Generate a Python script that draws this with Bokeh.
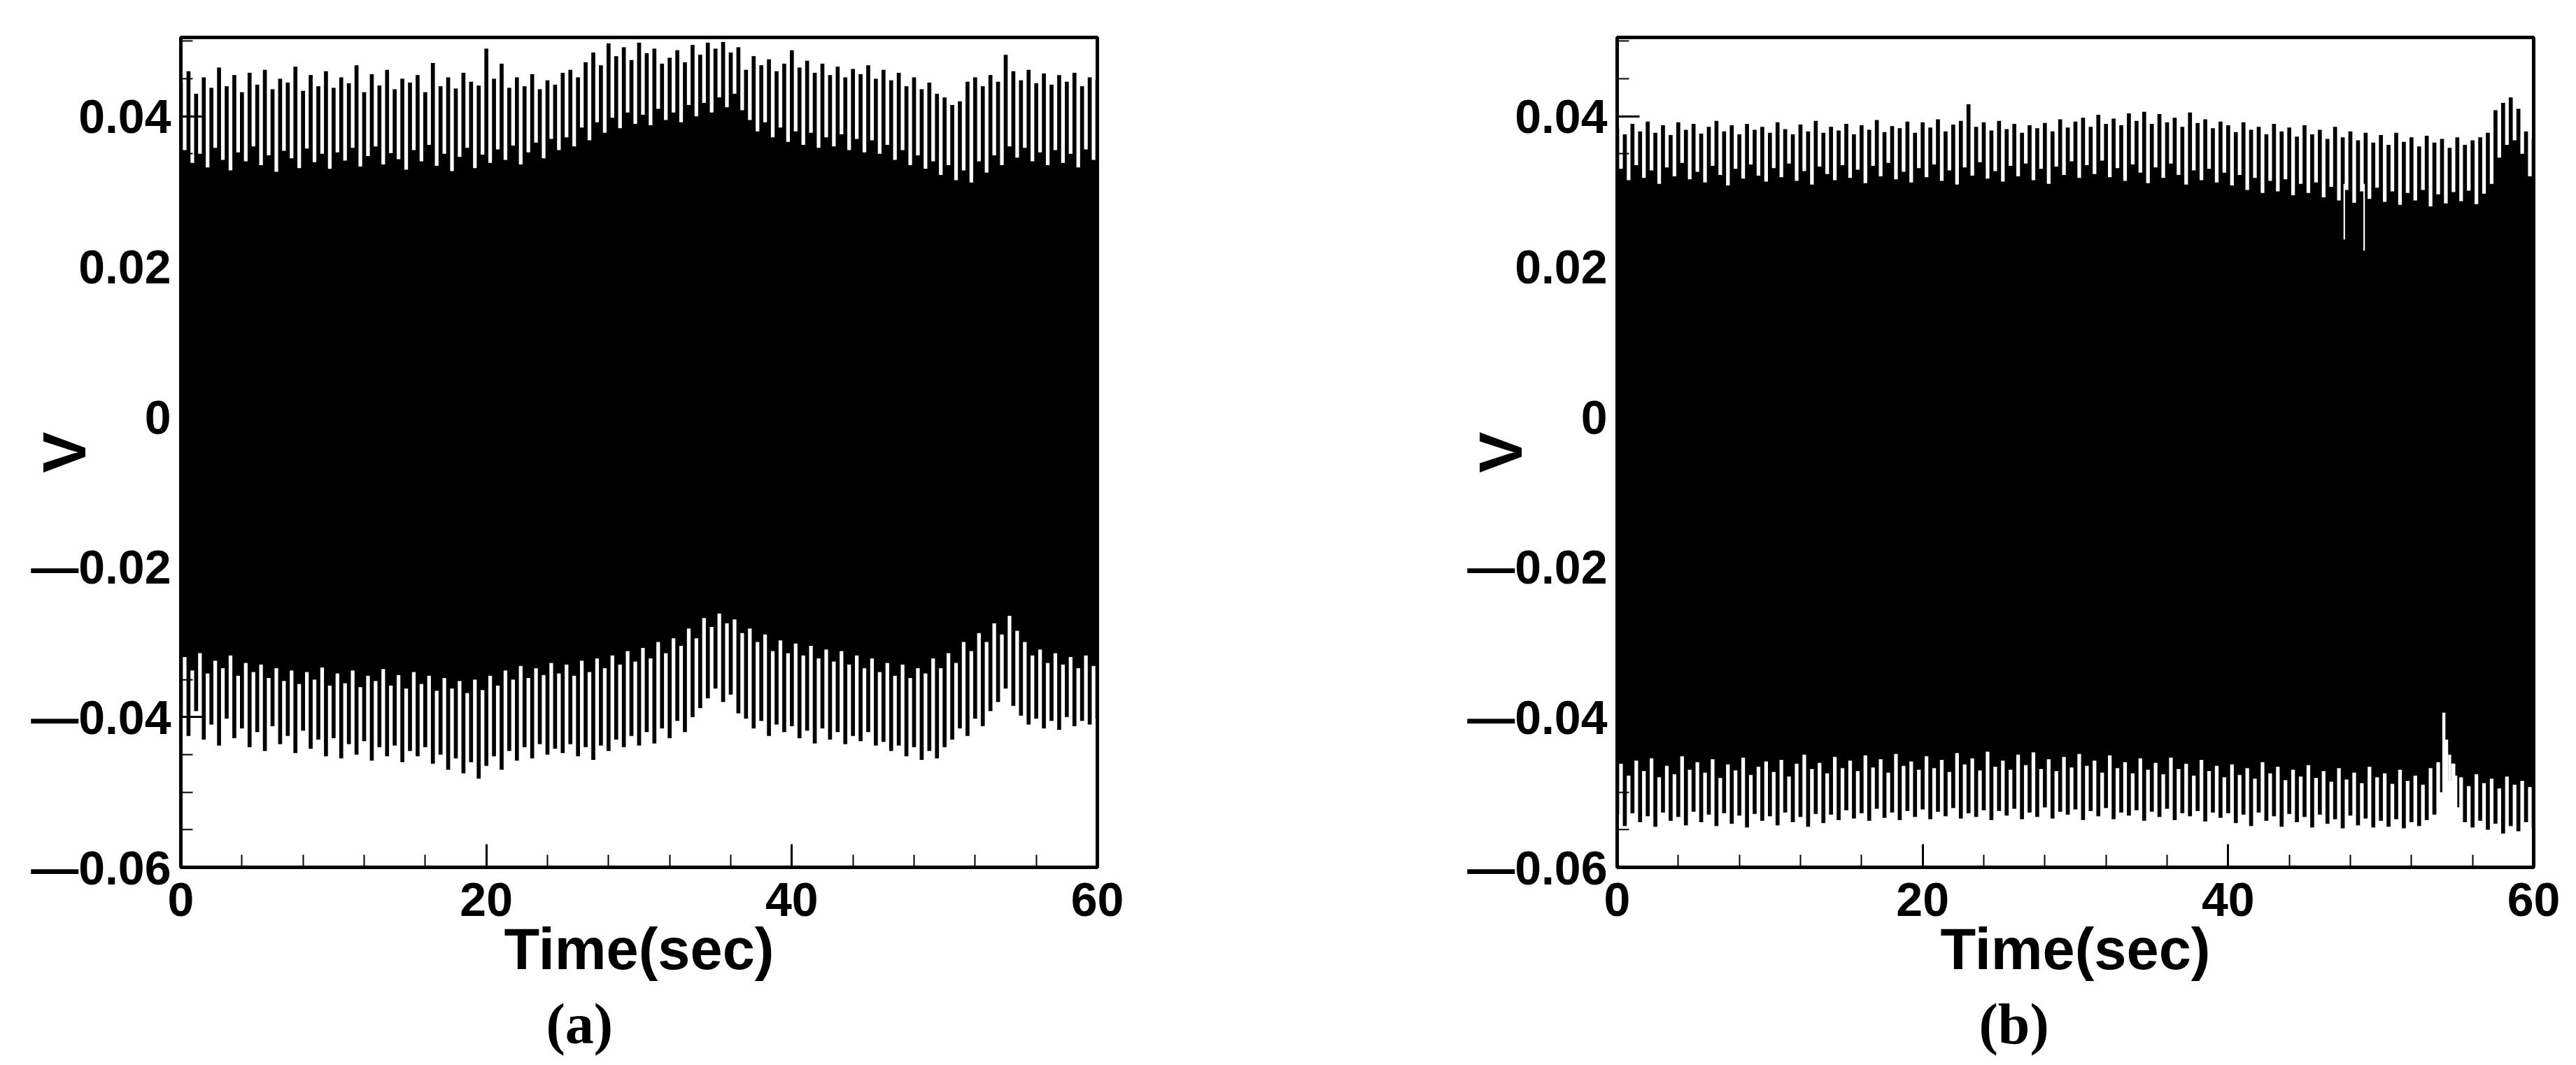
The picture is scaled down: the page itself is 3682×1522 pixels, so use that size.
import math
from bokeh.plotting import figure
from bokeh.layouts import row
from bokeh.models import Range1d, FixedTicker, CustomJSTickFormatter, Title
from bokeh.embed import file_html
from bokeh.resources import INLINE

# ---------------- data ----------------
T_SPIKE = [round(0.5 * i, 1) for i in range(121)]   # 0 .. 60 s, every 0.5 s

X_TICKS = [0, 20, 40, 60]
X_MINOR = [0, 4, 8, 12, 16, 20, 24, 28, 32, 36, 40, 44, 48, 52, 56, 60]
Y_TICKS = [-0.06, -0.04, -0.02, 0.0, 0.02, 0.04]
Y_MINOR = [-0.06, -0.055, -0.05, -0.045, -0.04, -0.035, -0.03, -0.025, -0.02, -0.015,
           -0.01, -0.005, 0.0, 0.005, 0.01, 0.015, 0.02, 0.025, 0.03, 0.035, 0.04, 0.045, 0.05]

# panel (a): positive spike tips
A_UPPER_PEAK = [
    0.0445, 0.0460, 0.0430, 0.0452, 0.0438, 0.0465, 0.0440, 0.0455, 0.0432, 0.0458,
    0.0442, 0.0462, 0.0436, 0.0450, 0.0445, 0.0466, 0.0434, 0.0455, 0.0440, 0.0460,
    0.0438, 0.0452, 0.0444, 0.0468, 0.0432, 0.0456, 0.0441, 0.0462, 0.0436, 0.0450,
    0.0445, 0.0455, 0.0432, 0.0471, 0.0440, 0.0452, 0.0437, 0.0458, 0.0446, 0.0441,
    0.0490, 0.0450, 0.0470, 0.0438, 0.0452, 0.0440, 0.0456, 0.0436, 0.0448, 0.0442,
    0.0458, 0.0462, 0.0452, 0.0472, 0.0485, 0.0468, 0.0497, 0.0480, 0.0492, 0.0475,
    0.0498, 0.0484, 0.0490, 0.0470, 0.0478, 0.0488, 0.0472, 0.0495, 0.0482, 0.0498,
    0.0490, 0.0499, 0.0485, 0.0492, 0.0462, 0.0480, 0.0468, 0.0476, 0.0460, 0.0470,
    0.0488, 0.0465, 0.0474, 0.0458, 0.0470, 0.0455, 0.0466, 0.0452, 0.0463, 0.0456,
    0.0468, 0.0450, 0.0462, 0.0448, 0.0458, 0.0440, 0.0452, 0.0436, 0.0445, 0.0430,
    0.0425, 0.0415, 0.0420, 0.0446, 0.0452, 0.0440, 0.0455, 0.0446, 0.0482, 0.0460,
    0.0448, 0.0462, 0.0444, 0.0457, 0.0442, 0.0455, 0.0446, 0.0458, 0.0440, 0.0452,
    0.0448]
# panel (a): negative spike tips
A_LOWER_PEAK = [
    -0.0400, -0.0425, -0.0392, -0.0430, -0.0410, -0.0438, -0.0402, -0.0428, -0.0415, -0.0440,
    -0.0420, -0.0445, -0.0412, -0.0436, -0.0425, -0.0448, -0.0418, -0.0442, -0.0430, -0.0452,
    -0.0428, -0.0455, -0.0436, -0.0450, -0.0432, -0.0458, -0.0440, -0.0452, -0.0438, -0.0460,
    -0.0445, -0.0452, -0.0440, -0.0462, -0.0450, -0.0470, -0.0455, -0.0475, -0.0460, -0.0482,
    -0.0465, -0.0452, -0.0470, -0.0445, -0.0458, -0.0440, -0.0455, -0.0436, -0.0450, -0.0442,
    -0.0448, -0.0436, -0.0452, -0.0440, -0.0457, -0.0438, -0.0445, -0.0430, -0.0440, -0.0425,
    -0.0438, -0.0420, -0.0435, -0.0415, -0.0428, -0.0405, -0.0420, -0.0400, -0.0388, -0.0375,
    -0.0362, -0.0380, -0.0370, -0.0395, -0.0402, -0.0415, -0.0405, -0.0425, -0.0410, -0.0420,
    -0.0412, -0.0428, -0.0418, -0.0435, -0.0415, -0.0430, -0.0420, -0.0436, -0.0425, -0.0432,
    -0.0420, -0.0438, -0.0433, -0.0445, -0.0438, -0.0452, -0.0440, -0.0457, -0.0445, -0.0455,
    -0.0440, -0.0430, -0.0415, -0.0425, -0.0402, -0.0412, -0.0392, -0.0380, -0.0362, -0.0385,
    -0.0398, -0.0410, -0.0402, -0.0415, -0.0405, -0.0417, -0.0400, -0.0412, -0.0405, -0.0410,
    -0.0402]
# panel (a): depth of the white gaps = limits of the solid black band
A_UPPER_BASE = [
    0.0355, 0.0338, 0.0350, 0.0332, 0.0358, 0.0342, 0.0328, 0.0352, 0.0340, 0.0360,
    0.0335, 0.0348, 0.0326, 0.0354, 0.0344, 0.0331, 0.0357, 0.0339, 0.0350, 0.0330,
    0.0352, 0.0341, 0.0358, 0.0333, 0.0347, 0.0360, 0.0336, 0.0351, 0.0343, 0.0329,
    0.0355, 0.0340, 0.0362, 0.0334, 0.0350, 0.0327, 0.0346, 0.0358, 0.0331, 0.0349,
    0.0338, 0.0356, 0.0342, 0.0361, 0.0336, 0.0352, 0.0365, 0.0344, 0.0370, 0.0355,
    0.0372, 0.0360, 0.0385, 0.0368, 0.0392, 0.0378, 0.0398, 0.0384, 0.0405, 0.0390,
    0.0402, 0.0388, 0.0410, 0.0395, 0.0405, 0.0392, 0.0415, 0.0400, 0.0418, 0.0405,
    0.0425, 0.0412, 0.0430, 0.0408, 0.0395, 0.0380, 0.0392, 0.0372, 0.0385, 0.0366,
    0.0380, 0.0362, 0.0378, 0.0358, 0.0372, 0.0360, 0.0376, 0.0355, 0.0370, 0.0352,
    0.0368, 0.0350, 0.0362, 0.0342, 0.0355, 0.0335, 0.0348, 0.0330, 0.0340, 0.0322,
    0.0335, 0.0315, 0.0328, 0.0312, 0.0340, 0.0325, 0.0348, 0.0335, 0.0360, 0.0345,
    0.0358, 0.0340, 0.0352, 0.0335, 0.0355, 0.0338, 0.0350, 0.0332, 0.0356, 0.0342,
    0.0350]
A_LOWER_BASE = [
    -0.0320, -0.0338, -0.0315, -0.0342, -0.0325, -0.0335, -0.0318, -0.0345, -0.0328, -0.0340,
    -0.0330, -0.0348, -0.0335, -0.0352, -0.0338, -0.0356, -0.0340, -0.0350, -0.0334, -0.0358,
    -0.0342, -0.0355, -0.0338, -0.0360, -0.0345, -0.0352, -0.0336, -0.0358, -0.0344, -0.0362,
    -0.0340, -0.0356, -0.0345, -0.0365, -0.0348, -0.0362, -0.0352, -0.0368, -0.0350, -0.0364,
    -0.0345, -0.0358, -0.0338, -0.0350, -0.0332, -0.0348, -0.0335, -0.0344, -0.0328, -0.0342,
    -0.0330, -0.0345, -0.0325, -0.0340, -0.0322, -0.0335, -0.0318, -0.0330, -0.0312, -0.0326,
    -0.0308, -0.0322, -0.0300, -0.0315, -0.0295, -0.0305, -0.0282, -0.0295, -0.0268, -0.0280,
    -0.0262, -0.0275, -0.0270, -0.0288, -0.0282, -0.0300, -0.0290, -0.0312, -0.0298, -0.0315,
    -0.0302, -0.0318, -0.0305, -0.0322, -0.0310, -0.0326, -0.0312, -0.0330, -0.0318, -0.0335,
    -0.0322, -0.0340, -0.0328, -0.0345, -0.0330, -0.0348, -0.0335, -0.0342, -0.0322, -0.0335,
    -0.0315, -0.0328, -0.0300, -0.0312, -0.0288, -0.0300, -0.0275, -0.0290, -0.0265, -0.0285,
    -0.0300, -0.0318, -0.0310, -0.0328, -0.0315, -0.0330, -0.0320, -0.0335, -0.0318, -0.0332,
    -0.0325]

# panel (b): positive spike tips
B_UPPER_PEAK = [
    0.0385, 0.0376, 0.0390, 0.0380, 0.0393, 0.0378, 0.0388, 0.0375, 0.0392, 0.0382,
    0.0390, 0.0377, 0.0386, 0.0394, 0.0380, 0.0388, 0.0376, 0.0390, 0.0382, 0.0386,
    0.0378, 0.0392, 0.0383, 0.0376, 0.0389, 0.0380, 0.0394, 0.0378, 0.0386, 0.0381,
    0.0390, 0.0376, 0.0388, 0.0382, 0.0395, 0.0379, 0.0387, 0.0384, 0.0393, 0.0378,
    0.0392, 0.0385, 0.0396, 0.0380, 0.0389, 0.0394, 0.0416, 0.0386, 0.0392, 0.0381,
    0.0394, 0.0383, 0.0390, 0.0378, 0.0388, 0.0384, 0.0391, 0.0380, 0.0396, 0.0385,
    0.0393, 0.0398, 0.0386, 0.0402, 0.0390, 0.0397, 0.0388, 0.0404, 0.0394, 0.0406,
    0.0390, 0.0403, 0.0392, 0.0398, 0.0386, 0.0405, 0.0391, 0.0396, 0.0384, 0.0393,
    0.0388, 0.0379, 0.0392, 0.0382, 0.0386, 0.0376, 0.0390, 0.0380, 0.0385, 0.0373,
    0.0388, 0.0376, 0.0382, 0.0370, 0.0386, 0.0372, 0.0380, 0.0368, 0.0378, 0.0365,
    0.0375, 0.0362, 0.0378, 0.0366, 0.0372, 0.0360, 0.0374, 0.0365, 0.0370, 0.0358,
    0.0372, 0.0362, 0.0368, 0.0372, 0.0378, 0.0408, 0.0418, 0.0425, 0.0410, 0.0380,
    0.0370]
# panel (b): negative spike tips
B_LOWER_PEAK = [
    -0.0530, -0.0545, -0.0528, -0.0540, -0.0532, -0.0546, -0.0527, -0.0538, -0.0533, -0.0544,
    -0.0526, -0.0540, -0.0530, -0.0545, -0.0528, -0.0542, -0.0531, -0.0547, -0.0529, -0.0538,
    -0.0532, -0.0544, -0.0527, -0.0540, -0.0533, -0.0546, -0.0529, -0.0541, -0.0530, -0.0537,
    -0.0524, -0.0535, -0.0528, -0.0538, -0.0522, -0.0534, -0.0527, -0.0537, -0.0525, -0.0533,
    -0.0523, -0.0536, -0.0526, -0.0532, -0.0521, -0.0535, -0.0528, -0.0533, -0.0524, -0.0537,
    -0.0525, -0.0531, -0.0522, -0.0536, -0.0527, -0.0533, -0.0520, -0.0535, -0.0526, -0.0530,
    -0.0523, -0.0537, -0.0525, -0.0532, -0.0521, -0.0536, -0.0527, -0.0531, -0.0524, -0.0538,
    -0.0526, -0.0533, -0.0522, -0.0537, -0.0528, -0.0532, -0.0525, -0.0539, -0.0527, -0.0534,
    -0.0528, -0.0541, -0.0530, -0.0545, -0.0527, -0.0538, -0.0532, -0.0546, -0.0529, -0.0540,
    -0.0533, -0.0547, -0.0530, -0.0542, -0.0536, -0.0548, -0.0531, -0.0544, -0.0535, -0.0547,
    -0.0538, -0.0546, -0.0536, -0.0548, -0.0540, -0.0545, -0.0537, -0.0530, -0.0500, -0.0485,
    -0.0520, -0.0540, -0.0547, -0.0538, -0.0550, -0.0542, -0.0555, -0.0545, -0.0552, -0.0540,
    -0.0548]
B_UPPER_BASE = [
    0.0330, 0.0315, 0.0335, 0.0318, 0.0328, 0.0310, 0.0332, 0.0320, 0.0338, 0.0316,
    0.0326, 0.0312, 0.0334, 0.0322, 0.0308, 0.0330, 0.0317, 0.0336, 0.0321, 0.0313,
    0.0331, 0.0319, 0.0337, 0.0314, 0.0327, 0.0309, 0.0333, 0.0323, 0.0315, 0.0335,
    0.0318, 0.0329, 0.0311, 0.0334, 0.0320, 0.0338, 0.0316, 0.0326, 0.0312, 0.0331,
    0.0319, 0.0336, 0.0314, 0.0328, 0.0309, 0.0332, 0.0321, 0.0339, 0.0317, 0.0327,
    0.0313, 0.0334, 0.0320, 0.0337, 0.0315, 0.0330, 0.0310, 0.0333, 0.0322, 0.0340,
    0.0318, 0.0335, 0.0323, 0.0341, 0.0319, 0.0331, 0.0314, 0.0336, 0.0325, 0.0311,
    0.0332, 0.0318, 0.0337, 0.0322, 0.0309, 0.0328, 0.0315, 0.0330, 0.0312, 0.0325,
    0.0308, 0.0322, 0.0302, 0.0318, 0.0298, 0.0314, 0.0300, 0.0316, 0.0295, 0.0310,
    0.0298, 0.0312, 0.0292, 0.0306, 0.0288, 0.0302, 0.0285, 0.0300, 0.0290, 0.0305,
    0.0286, 0.0300, 0.0282, 0.0298, 0.0288, 0.0302, 0.0280, 0.0296, 0.0284, 0.0299,
    0.0287, 0.0301, 0.0283, 0.0297, 0.0310, 0.0345, 0.0362, 0.0368, 0.0350, 0.0320,
    0.0300]
B_LOWER_BASE = [
    -0.0462, -0.0478, -0.0458, -0.0472, -0.0455, -0.0480, -0.0465, -0.0476, -0.0452, -0.0470,
    -0.0460, -0.0474, -0.0456, -0.0481, -0.0463, -0.0471, -0.0454, -0.0477, -0.0466, -0.0459,
    -0.0473, -0.0457, -0.0479, -0.0462, -0.0450, -0.0469, -0.0461, -0.0475, -0.0453, -0.0468,
    -0.0458, -0.0472, -0.0451, -0.0467, -0.0456, -0.0474, -0.0449, -0.0465, -0.0459, -0.0470,
    -0.0452, -0.0468, -0.0457, -0.0473, -0.0448, -0.0463, -0.0455, -0.0471, -0.0446, -0.0466,
    -0.0458, -0.0470, -0.0450, -0.0464, -0.0447, -0.0469, -0.0456, -0.0472, -0.0453, -0.0467,
    -0.0449, -0.0465, -0.0458, -0.0474, -0.0451, -0.0468, -0.0460, -0.0475, -0.0455, -0.0470,
    -0.0461, -0.0476, -0.0454, -0.0469, -0.0462, -0.0478, -0.0457, -0.0472, -0.0465, -0.0480,
    -0.0463, -0.0477, -0.0468, -0.0482, -0.0460, -0.0475, -0.0466, -0.0484, -0.0470, -0.0479,
    -0.0464, -0.0481, -0.0472, -0.0486, -0.0468, -0.0483, -0.0474, -0.0488, -0.0466, -0.0480,
    -0.0475, -0.0489, -0.0470, -0.0485, -0.0478, -0.0490, -0.0468, -0.0460, -0.0455, -0.0462,
    -0.0480, -0.0492, -0.0476, -0.0488, -0.0482, -0.0495, -0.0479, -0.0490, -0.0485, -0.0493,
    -0.0484]
# panel (b): narrow white dips cutting into the black band
B_DIP_T = [47.6, 48.9]
B_DIP_V = [0.0236, 0.0221]
B_NOTCH_T = [54.12, 54.3, 54.5, 54.7, 54.9]
B_NOTCH_V = [-0.0394, -0.0430, -0.0450, -0.0462, -0.0478]

FONT = "Liberation Sans"


def make_panel(width, ml, mr, up_peak, lo_peak, up_base, lo_base, caption, cap_offset):
    p = figure(width=width, height=1518,
               x_range=Range1d(0, 60), y_range=Range1d(-0.06, 0.0505),
               output_backend="svg", toolbar_location=None,
               min_border_left=ml, min_border_right=mr,
               min_border_top=53, min_border_bottom=270)
    p.grid.visible = False
    p.background_fill_color = "white"
    p.border_fill_color = "white"
    p.outline_line_color = "black"
    p.outline_line_width = 5

    p.varea_step(x=T_SPIKE, y1=lo_base, y2=up_base, step_mode="after", fill_color="black")
    p.vbar(x=T_SPIKE, width=0.26, bottom=0, top=up_peak, fill_color="black", line_color=None)
    p.vbar(x=T_SPIKE, width=0.26, bottom=lo_peak, top=0, fill_color="black", line_color=None)

    # x axis
    xa = p.xaxis[0]
    xa.ticker = FixedTicker(ticks=X_TICKS, minor_ticks=X_MINOR)
    xa.axis_line_width = 5
    xa.major_tick_in = 33
    xa.major_tick_out = 0
    xa.minor_tick_in = 18
    xa.minor_tick_out = 0
    xa.major_tick_line_width = 3
    xa.minor_tick_line_width = 2
    xa.major_label_standoff = 22
    xa.major_label_text_font = FONT
    xa.major_label_text_font_style = "bold"
    xa.major_label_text_font_size = "68px"
    xa.major_label_text_color = "black"
    xa.axis_label = "Time(sec)"
    xa.axis_label_text_font = FONT
    xa.axis_label_text_font_style = "bold"
    xa.axis_label_text_font_size = "83px"
    xa.axis_label_text_color = "black"
    xa.axis_label_standoff = -2

    # y axis
    ya = p.yaxis[0]
    ya.ticker = FixedTicker(ticks=Y_TICKS, minor_ticks=Y_MINOR)
    ya.axis_line_width = 5
    ya.major_tick_in = 32
    ya.major_tick_out = 0
    ya.minor_tick_in = 17
    ya.minor_tick_out = 0
    ya.major_tick_line_width = 3
    ya.minor_tick_line_width = 2
    ya.major_label_standoff = 14
    ya.major_label_text_font = FONT
    ya.major_label_text_font_style = "bold"
    ya.major_label_text_font_size = "68px"
    ya.major_label_text_color = "black"
    ya.formatter = CustomJSTickFormatter(code="""
        if (Math.abs(tick) < 1e-9) { return '0'; }
        const s = Math.abs(tick).toFixed(2);
        return (tick < 0 ? '\u2014' : '') + s;
    """)
    ya.axis_label = "V"
    ya.axis_label_text_font = FONT
    ya.axis_label_text_font_style = "bold"
    ya.axis_label_text_font_size = "88px"
    ya.axis_label_text_color = "black"
    ya.axis_label_standoff = -100

    p.add_layout(Title(text=caption, align="left", offset=cap_offset, standoff=20,
                       text_font="Liberation Serif", text_font_style="bold",
                       text_font_size="82px", text_color="black"), "below")
    return p


pa = make_panel(1868, 258, 300, A_UPPER_PEAK, A_LOWER_PEAK, A_UPPER_BASE, A_LOWER_BASE, "(a)", 522)
pb = make_panel(1793, 443, 40, B_UPPER_PEAK, B_LOWER_PEAK, B_UPPER_BASE, B_LOWER_BASE, "(b)", 517)
pb.vbar(x=B_DIP_T, width=0.1, bottom=B_DIP_V, top=0.031, fill_color="white", line_color=None)
pb.vbar(x=B_NOTCH_T, width=0.2, bottom=-0.06, top=B_NOTCH_V, fill_color="white", line_color=None)

layout = row(pa, pb)
open("out.html", "w").write(file_html(layout, INLINE))
